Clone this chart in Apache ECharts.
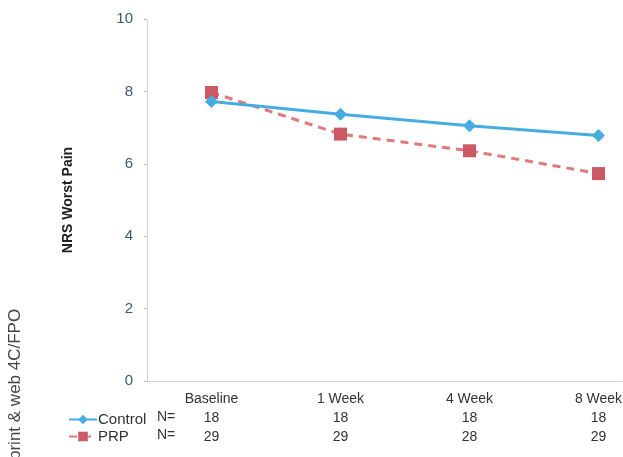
<!DOCTYPE html>
<html><head><meta charset="utf-8">
<script src="https://cdn.jsdelivr.net/npm/echarts@6/dist/echarts.min.js"></script>
<style>html,body{margin:0;padding:0;background:#fff;overflow:hidden;width:623px;height:457px}#c{width:663px;height:457px}</style>
</head><body><div id="c"></div>
<script>
const categories = ['Baseline', '1 Week', '4 Week', '8 Week'];
const controlValues = [7.72, 7.37, 7.05, 6.78];
const prpValues = [7.97, 6.82, 6.36, 5.73];
const controlN = [18, 18, 18, 18];
const prpN = [29, 29, 28, 29];
const yTicks = [0, 2, 4, 6, 8, 10];

const chart = echarts.init(document.getElementById('c'));
const font = 'Liberation Sans, Arial, sans-serif';
chart.setOption({
  animation: false,
  backgroundColor: '#fff',
  textStyle: { fontFamily: font },
  grid: { left: 147, right: 0, top: 19, height: 362, containLabel: false },
  legend: {
    orient: 'vertical', left: 63, top: 407, itemGap: 2, itemWidth: 28, itemHeight: 12,
    textStyle: { fontSize: 15, color: '#333', fontFamily: font, padding: [0, 0, 0, -4] },
    data: ['Control', 'PRP']
  },
  xAxis: {
    type: 'category', data: categories, boundaryGap: true,
    axisLine: { show: true, lineStyle: { color: '#ccc', type: 'dotted', width: 1 } },
    axisTick: { show: false },
    axisLabel: {
      interval: 0, margin: 8,
      formatter: (v, i) => `{c|${v}}\n{n|${controlN[i]}}\n{n|${prpN[i]}}`,
      rich: {
        c: { fontSize: 14, color: '#333', lineHeight: 20, fontFamily: font },
        n: { fontSize: 14, color: '#333', lineHeight: 19, fontFamily: font }
      }
    }
  },
  yAxis: {
    type: 'value', min: 0, max: 10, interval: 2,
    axisLine: { show: true, lineStyle: { color: '#ccc', type: 'dotted', width: 1 } },
    axisTick: { show: true, length: 3, lineStyle: { color: '#bbb' } },
    splitLine: { show: false },
    axisLabel: { fontSize: 15, color: '#3e586c', margin: 14,
      formatter: v => yTicks.includes(v) ? String(v) : '' },
    name: 'NRS Worst Pain', nameLocation: 'middle', nameGap: 72, nameRotate: 90,
    nameTextStyle: { fontSize: 14, fontWeight: 'bold', color: '#222', fontFamily: font }
  },
  graphic: [
    { type: 'text', left: 157, top: 410, style: { text: 'N=', fontSize: 14, fill: '#333', fontFamily: font } },
    { type: 'text', left: 157, top: 428, style: { text: 'N=', fontSize: 14, fill: '#333', fontFamily: font } },
    { type: 'text', x: 7, y: 460, rotation: Math.PI / 2,
      style: { text: 'print & web 4C/FPO', fontSize: 17, fill: '#444', fontFamily: font, align: 'left', verticalAlign: 'top' } }
  ],
  series: [
    { name: 'Control', type: 'line', data: controlValues, symbol: 'diamond', symbolSize: 13,
      lineStyle: { color: '#45ade0', width: 3 }, itemStyle: { color: '#45ade0' }, z: 3 },
    { name: 'PRP', type: 'line', data: prpValues, symbol: 'rect', symbolSize: 13,
      lineStyle: { color: '#e07a7a', width: 3, type: [8, 6] }, itemStyle: { color: '#cc5a66' }, z: 2 }
  ]
});
</script></body></html>
